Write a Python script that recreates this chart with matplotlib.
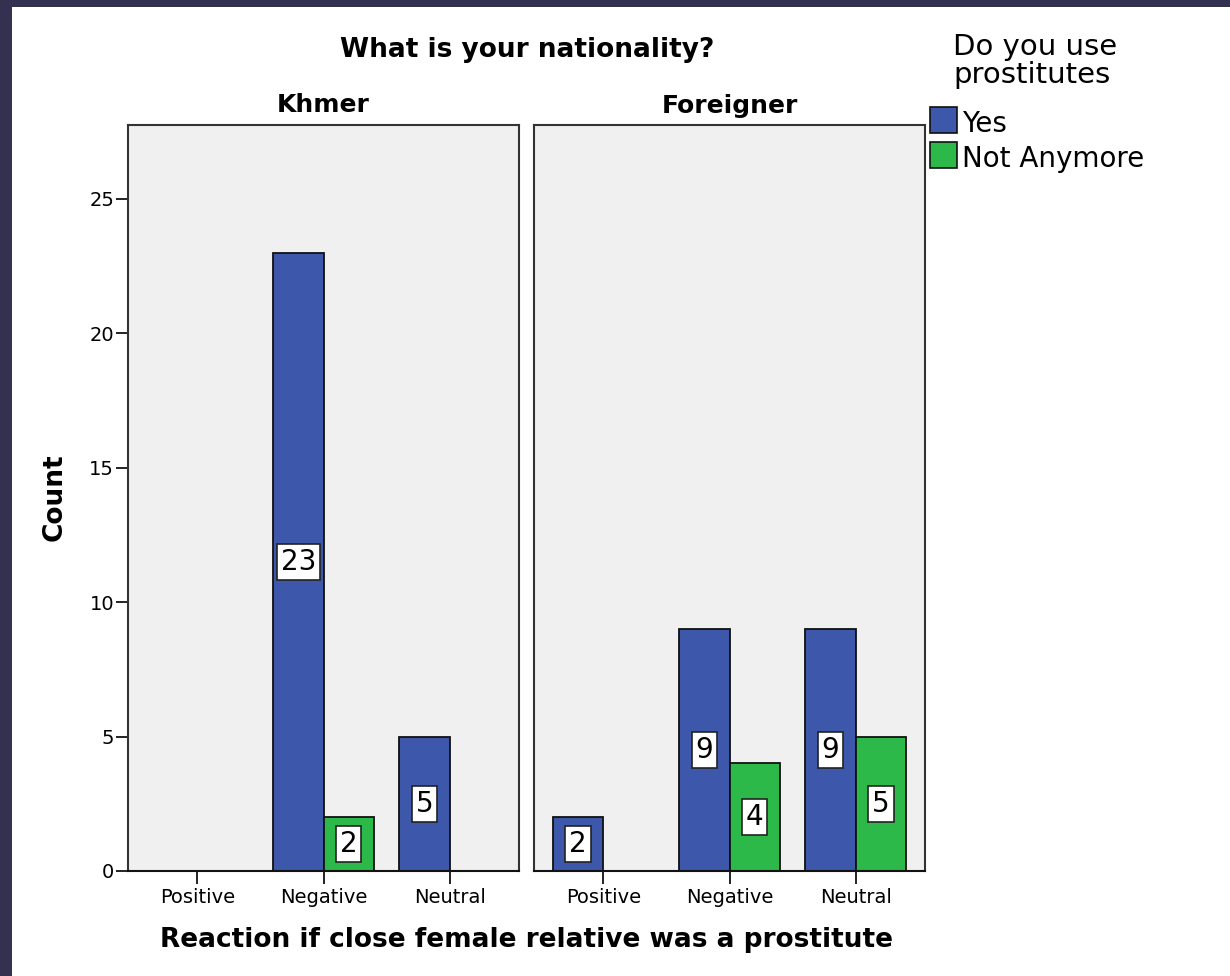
import matplotlib
matplotlib.use("Agg")
import matplotlib.pyplot as plt
from matplotlib.patches import Rectangle

# ---- data ----
categories = ["Positive", "Negative", "Neutral"]
panels = ["Khmer", "Foreigner"]
series = ["Yes", "Not Anymore"]
khmer_yes = [0, 23, 5]
khmer_not_anymore = [0, 2, 0]
foreigner_yes = [2, 9, 9]
foreigner_not_anymore = [0, 4, 5]
yticks = [0, 5, 10, 15, 20, 25]

data = {
    "Khmer": [khmer_yes, khmer_not_anymore],
    "Foreigner": [foreigner_yes, foreigner_not_anymore],
}
colors = ["#3d57aa", "#2db84a"]

W, H = 1230, 976
fig = plt.figure(figsize=(W / 100, H / 100), dpi=100)
fig.patch.set_facecolor("#34304f")
fig.patches.append(Rectangle((12 / W, 0), 1 - 12 / W, (H - 7) / H,
                             transform=fig.transFigure, facecolor="white",
                             edgecolor="none", zorder=-5))

def fx(px):
    return px / W

def fy(py):
    return 1 - py / H

def px_axes(left, top, right, bottom):
    return fig.add_axes([left / W, (H - bottom) / H, (right - left) / W, (bottom - top) / H])

axes = [px_axes(128, 125, 519, 871), px_axes(534, 125, 925, 871)]
bw = 0.4
xs = list(range(len(categories)))

for ax, name in zip(axes, panels):
    ax.set_facecolor("#f0f0f0")
    vals = data[name]
    for si, svals in enumerate(vals):
        for xi, v in zip(xs, svals):
            if v <= 0:
                continue
            left = xi - bw if si == 0 else xi
            ax.bar(left, v, width=bw, align="edge", color=colors[si],
                   edgecolor="#111111", linewidth=1.3, zorder=2)
            ax.text(left + bw / 2, v / 2, str(v), ha="center", va="center",
                    fontsize=20, color="black", zorder=3,
                    bbox=dict(boxstyle="square,pad=0.14", facecolor="white",
                              edgecolor="#222222", linewidth=1.2))
    ax.set_xlim(-0.55, 2.55)
    ax.set_ylim(0, 27.75)
    ax.set_xticks(xs)
    ax.set_xticklabels(categories, fontsize=14)
    ax.tick_params(axis="x", length=9, width=1.3, color="#111111", pad=3)
    for s in ax.spines.values():
        s.set_color("#333333")
        s.set_linewidth(1.5)
    ax.spines["bottom"].set_color("#111111")
    ax.set_title(name, fontsize=18, fontweight="bold", pad=9)

axes[0].set_yticks(yticks)
axes[0].set_yticklabels([str(t) for t in yticks], fontsize=14)
axes[0].tick_params(axis="y", length=9, width=1.3, color="#111111", pad=1)
axes[1].set_yticks([])

fig.text(fx(527), fy(50), "What is your nationality?", ha="center", va="center",
         fontsize=19, fontweight="bold")
fig.text(fx(55), fy(497), "Count", ha="center", va="center", rotation=90,
         fontsize=19, fontweight="bold")
fig.text(fx(526), fy(940), "Reaction if close female relative was a prostitute",
         ha="center", va="center", fontsize=19, fontweight="bold")

# legend (drawn by hand to match layout)
fig.text(fx(953), fy(55), "Do you use", ha="left", va="baseline", fontsize=21)
fig.text(fx(953), fy(83), "prostitutes", ha="left", va="baseline", fontsize=21)
sw_tops = [107, 142]
baselines = [132, 167]
for c, lab, t, b in zip(colors, series, sw_tops, baselines):
    fig.patches.append(Rectangle((fx(930), fy(t + 26)), 27 / W, 26 / H,
                                 transform=fig.transFigure, facecolor=c,
                                 edgecolor="#111111", linewidth=1.2, zorder=3))
    fig.text(fx(962), fy(b), lab, ha="left", va="baseline", fontsize=20)

fig.savefig("out.png", dpi=100, facecolor=fig.get_facecolor())
